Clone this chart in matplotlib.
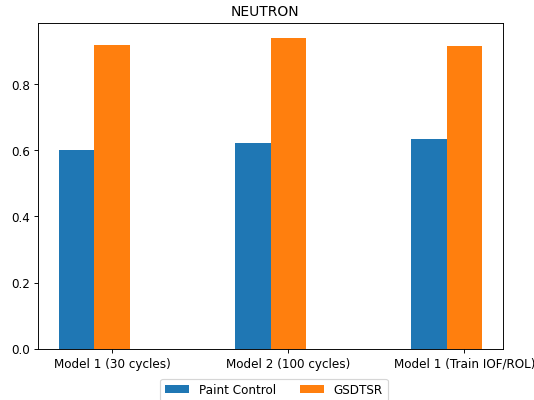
import numpy as np
import matplotlib.pyplot as plt

# values
models = ["Model 1 (30 cycles)", "Model 2 (100 cycles)", "Model 1 (Train IOF/ROL)"]
paint_control = [0.602, 0.623, 0.635]
gsdtsr = [0.917, 0.938, 0.914]

x = np.arange(len(models))
width = 0.2

dpi = 534 / 6.4
fig = plt.figure(figsize=(6.4, 4.8), dpi=dpi)
ax = fig.add_axes([38 / 534, 51 / 400, 465 / 534, 325.7 / 400])

ax.bar(x - width, paint_control, width, label="Paint Control")
ax.bar(x, gsdtsr, width, label="GSDTSR")

ax.set_xticks(x)
ax.set_xticklabels(models)
ax.tick_params(labelsize=10.4)
ax.set_title("NEUTRON", x=0.488)
ax.legend(loc="upper center", bbox_to_anchor=(0.5075, -0.091), ncol=2,
          borderaxespad=0, fontsize=10.4)

fig.savefig("out.png", dpi=dpi)
